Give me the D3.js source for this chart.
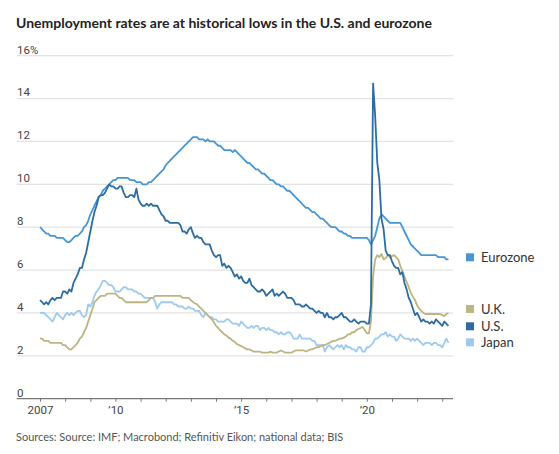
<!DOCTYPE html>
<html><head><meta charset="utf-8">
<script src="https://cdn.jsdelivr.net/npm/d3@7/dist/d3.min.js"></script>
<style>body{margin:0;background:#fff}svg{display:block}</style>
</head><body>
<svg id="chart" width="559" height="454"></svg>
<script>
// Monthly data, Jan 2007 – Apr 2023
const startYear = 2007;
const eurozone = [
8.0,7.9,7.8,7.7,7.7,7.6,7.6,7.6,7.5,7.5,7.5,7.5,
7.4,7.3,7.3,7.4,7.5,7.6,7.6,7.7,7.8,8.0,8.1,8.3,
8.6,8.8,9.0,9.2,9.4,9.5,9.7,9.8,9.9,10.0,10.1,10.2,
10.2,10.3,10.3,10.3,10.3,10.3,10.3,10.2,10.2,10.2,10.1,10.1,
10.1,10.0,10.0,10.0,10.1,10.1,10.2,10.3,10.4,10.5,10.6,10.7,
10.9,11.0,11.1,11.2,11.3,11.4,11.5,11.6,11.7,11.8,11.9,12.0,
12.1,12.2,12.2,12.2,12.1,12.1,12.1,12.0,12.1,12.0,12.0,12.0,
11.9,11.8,11.8,11.7,11.6,11.6,11.6,11.6,11.5,11.6,11.5,11.4,
11.3,11.2,11.1,11.0,11.0,10.9,10.8,10.7,10.7,10.6,10.5,10.5,
10.4,10.3,10.2,10.2,10.1,10.0,10.0,9.9,9.9,9.8,9.7,9.7,
9.6,9.5,9.4,9.3,9.2,9.1,9.0,8.9,8.9,8.8,8.7,8.7,
8.6,8.5,8.4,8.4,8.3,8.2,8.1,8.0,8.0,8.0,7.9,7.8,
7.8,7.7,7.7,7.6,7.6,7.5,7.5,7.5,7.5,7.5,7.5,7.5,
7.5,7.4,7.2,7.4,7.6,8.0,8.4,8.6,8.5,8.4,8.3,8.2,
8.2,8.2,8.2,8.2,8.2,8.0,7.8,7.6,7.4,7.2,7.1,7.0,
6.9,6.8,6.7,6.7,6.7,6.7,6.7,6.7,6.7,6.7,6.6,6.6,
6.6,6.6,6.5,6.5];
const us = [
4.6,4.5,4.4,4.5,4.4,4.6,4.7,4.6,4.7,4.7,4.7,5.0,
5.0,4.9,5.1,5.0,5.4,5.6,5.8,6.1,6.1,6.5,6.8,7.3,
7.8,8.3,8.7,9.0,9.4,9.5,9.5,9.6,9.8,10.0,9.9,9.9,
9.8,9.8,9.9,9.9,9.6,9.4,9.4,9.5,9.5,9.4,9.8,9.3,
9.1,9.0,9.0,9.1,9.0,9.1,9.0,9.0,9.0,8.8,8.6,8.5,
8.3,8.3,8.2,8.2,8.2,8.2,8.2,8.1,7.8,7.8,7.7,7.9,
8.0,7.7,7.5,7.6,7.5,7.5,7.3,7.2,7.2,7.2,6.9,6.7,
6.6,6.7,6.7,6.2,6.3,6.1,6.2,6.1,5.9,5.7,5.8,5.6,
5.7,5.5,5.4,5.4,5.6,5.3,5.2,5.1,5.0,5.0,5.1,5.0,
4.8,4.9,5.0,5.1,4.8,4.9,4.8,4.9,5.0,4.9,4.7,4.7,
4.7,4.6,4.4,4.4,4.4,4.3,4.3,4.4,4.3,4.2,4.2,4.1,
4.0,4.1,4.0,4.0,3.8,4.0,3.8,3.8,3.7,3.8,3.8,3.9,
4.0,3.8,3.8,3.7,3.6,3.6,3.7,3.6,3.5,3.6,3.6,3.6,
3.5,3.5,4.4,14.7,13.2,11.0,10.2,8.4,7.9,6.9,6.7,6.7,
6.4,6.2,6.1,6.1,5.8,5.9,5.4,5.1,4.7,4.5,4.2,3.9,
4.0,3.8,3.6,3.7,3.6,3.6,3.5,3.6,3.5,3.7,3.6,3.5,
3.4,3.6,3.5,3.4];
const uk = [
2.8,2.8,2.7,2.7,2.7,2.6,2.6,2.6,2.6,2.6,2.6,2.5,
2.5,2.4,2.3,2.3,2.4,2.5,2.6,2.8,2.9,3.1,3.3,3.6,
3.9,4.2,4.5,4.6,4.7,4.8,4.8,4.8,4.9,4.9,4.9,4.9,
4.9,4.8,4.7,4.7,4.6,4.5,4.5,4.5,4.5,4.5,4.5,4.5,
4.5,4.5,4.5,4.5,4.6,4.7,4.7,4.8,4.8,4.8,4.8,4.8,
4.8,4.8,4.8,4.8,4.8,4.8,4.8,4.8,4.7,4.7,4.7,4.7,
4.6,4.5,4.45,4.4,4.3,4.2,4.1,4.0,3.9,3.8,3.7,3.55,
3.4,3.3,3.2,3.1,3.0,2.95,2.85,2.8,2.7,2.65,2.55,2.5,
2.45,2.4,2.35,2.3,2.3,2.25,2.2,2.2,2.2,2.2,2.15,2.15,
2.15,2.15,2.2,2.15,2.15,2.15,2.2,2.25,2.2,2.15,2.15,2.15,
2.15,2.2,2.25,2.25,2.25,2.25,2.25,2.2,2.25,2.3,2.3,2.35,
2.4,2.4,2.45,2.5,2.5,2.55,2.6,2.65,2.7,2.7,2.75,2.8,
2.8,2.85,2.9,3.0,3.0,3.1,3.1,3.2,3.25,3.3,3.35,3.2,
3.05,3.05,3.6,5.7,6.5,6.7,6.6,6.75,6.5,6.55,6.7,6.6,
6.65,6.7,6.6,6.5,6.2,5.95,5.7,5.45,5.2,4.95,4.75,4.6,
4.35,4.2,4.1,4.0,3.95,3.95,3.95,3.95,3.95,3.95,3.95,3.95,
3.9,3.85,3.95,4.0];
const japan = [
4.0,4.0,4.0,3.9,3.8,3.7,3.6,3.8,4.0,3.9,3.8,3.7,
3.9,4.0,3.9,4.0,3.9,4.0,4.1,4.1,3.9,3.8,3.9,4.4,
4.3,4.5,4.8,5.0,5.1,5.3,5.5,5.5,5.4,5.3,5.3,5.2,
5.0,5.0,5.0,5.1,5.2,5.2,5.1,5.1,5.1,5.0,5.0,4.9,
4.9,4.8,4.7,4.7,4.7,4.7,4.7,4.5,4.2,4.4,4.5,4.5,
4.5,4.5,4.5,4.5,4.4,4.4,4.3,4.3,4.3,4.2,4.2,4.3,
4.2,4.2,4.1,4.1,4.1,3.9,3.8,4.0,3.9,3.8,3.8,3.7,
3.7,3.6,3.6,3.6,3.6,3.7,3.7,3.6,3.5,3.5,3.5,3.4,
3.6,3.5,3.4,3.3,3.3,3.4,3.3,3.4,3.4,3.2,3.3,3.3,
3.2,3.3,3.2,3.2,3.1,3.1,3.0,3.1,3.0,3.0,3.1,3.1,
3.0,2.8,2.8,2.8,3.0,2.8,2.8,2.8,2.8,2.8,2.7,2.7,
2.5,2.5,2.5,2.5,2.2,2.4,2.5,2.4,2.3,2.4,2.5,2.4,
2.5,2.3,2.5,2.4,2.4,2.3,2.3,2.2,2.4,2.4,2.2,2.2,
2.4,2.4,2.5,2.6,2.8,2.8,2.9,3.0,3.0,3.1,2.9,3.0,
2.9,2.9,2.7,2.8,3.0,2.9,2.8,2.8,2.8,2.7,2.8,2.7,
2.8,2.7,2.6,2.5,2.6,2.6,2.6,2.5,2.6,2.6,2.5,2.5,
2.4,2.6,2.8,2.6];

const seriesNames = ["Eurozone", "U.K.", "U.S.", "Japan"];
const yTicks = [0, 2, 4, 6, 8, 10, 12, 14, 16];
const xTickYears = [2007,2008,2009,2010,2011,2012,2013,2014,2015,2016,2017,2018,2019,2020,2021,2022,2023];
const xTickLabelYears = [2007, 2010, 2015, 2020];
const xTickLabelText = ["2007", "\u201910", "\u201915", "\u201920"];
const titleText = "Unemployment rates are at historical lows in the U.S. and eurozone";
const sourceText = "Sources: Source: IMF; Macrobond; Refinitiv Eikon; national data; BIS";

// ---- styles / layout ----
const colors = {"Eurozone":"#4696d6","U.K.":"#bcb483","U.S.":"#2b6ca3","Japan":"#9dcaee"};
const legendY = {"Eurozone":257.3,"U.K.":309,"U.S.":326.3,"Japan":342.3};
const drawOrder = ["Japan","Eurozone","U.K.","U.S."];
const seriesData = {"Eurozone":eurozone,"U.K.":uk,"U.S.":us,"Japan":japan};

const svg = d3.select("#chart");
const x = d3.scaleTime()
  .domain([new Date(2006,0,27), new Date(2023,5,6)])
  .range([16.7, 453]);
const y = d3.scaleLinear().domain([0,16]).range([398.7, 55.7]);

const dateOf = i => new Date(startYear + Math.floor(i/12), i%12, 1);

// title
svg.append("text").attr("x",16).attr("y",28)
  .attr("font-family","Lato, 'Open Sans', sans-serif").attr("font-weight",700)
  .attr("font-size",14).attr("fill","#222").text(titleText);

// gridlines
const grid = svg.append("g");
grid.selectAll("line").data(yTicks.filter(d=>d>0)).join("line")
  .attr("x1",16.7).attr("x2",453)
  .attr("y1",d=>y(d)).attr("y2",d=>y(d))
  .attr("stroke","#e3e3e3").attr("stroke-width",1.2);

grid.selectAll("text").data(yTicks).join("text")
  .attr("x",17).attr("y",d=>y(d)-2.2)
  .attr("font-family","'Liberation Sans Narrow', Roboto, sans-serif")
  .attr("font-size",11.5).attr("fill","#444")
  .text(d=> d===16 ? "16%" : String(d));

// x axis
const xAxis = d3.axisBottom(x)
  .tickValues(xTickYears.map(yr=>new Date(yr,0,1)))
  .tickSize(3).tickSizeOuter(0)
  .tickFormat(d=>{const i=xTickLabelYears.indexOf(d.getFullYear()); return i>=0?xTickLabelText[i]:"";});
const gx = svg.append("g").attr("transform",`translate(0,${y(0)})`).call(xAxis);
gx.select(".domain").attr("stroke","#777").attr("stroke-width",1.2).attr("d","M16.7,0H453");
gx.selectAll(".tick line").attr("stroke","#777");
gx.selectAll(".tick text").attr("font-family","'Liberation Sans Narrow', Roboto, sans-serif")
  .attr("font-size",11.5).attr("fill","#444").attr("dy","0.95em").attr("y",4.5);

// lines
const line = d3.line().x((d,i)=>x(dateOf(i))).y(d=>y(d));
const lines = svg.append("g");
drawOrder.forEach(name=>{
  lines.append("path").datum(seriesData[name])
    .attr("fill","none").attr("stroke",colors[name])
    .attr("stroke-width",1.8).attr("stroke-linejoin","round")
    .attr("d",line);
});

// legend
const lg = svg.append("g");
seriesNames.forEach(name=>{
  lg.append("rect").attr("x",466).attr("y",legendY[name]-4).attr("width",8).attr("height",8)
    .attr("fill",colors[name]);
  lg.append("text").attr("x",481).attr("y",legendY[name]).attr("dy","0.35em")
    .attr("font-family","Lato, sans-serif").attr("font-size",13).attr("fill","#333").text(name);
});

// source
svg.append("text").attr("x",16).attr("y",441)
  .attr("font-family","Lato, sans-serif").attr("font-size",11).attr("fill","#555")
  .text(sourceText);
</script>
</body></html>
